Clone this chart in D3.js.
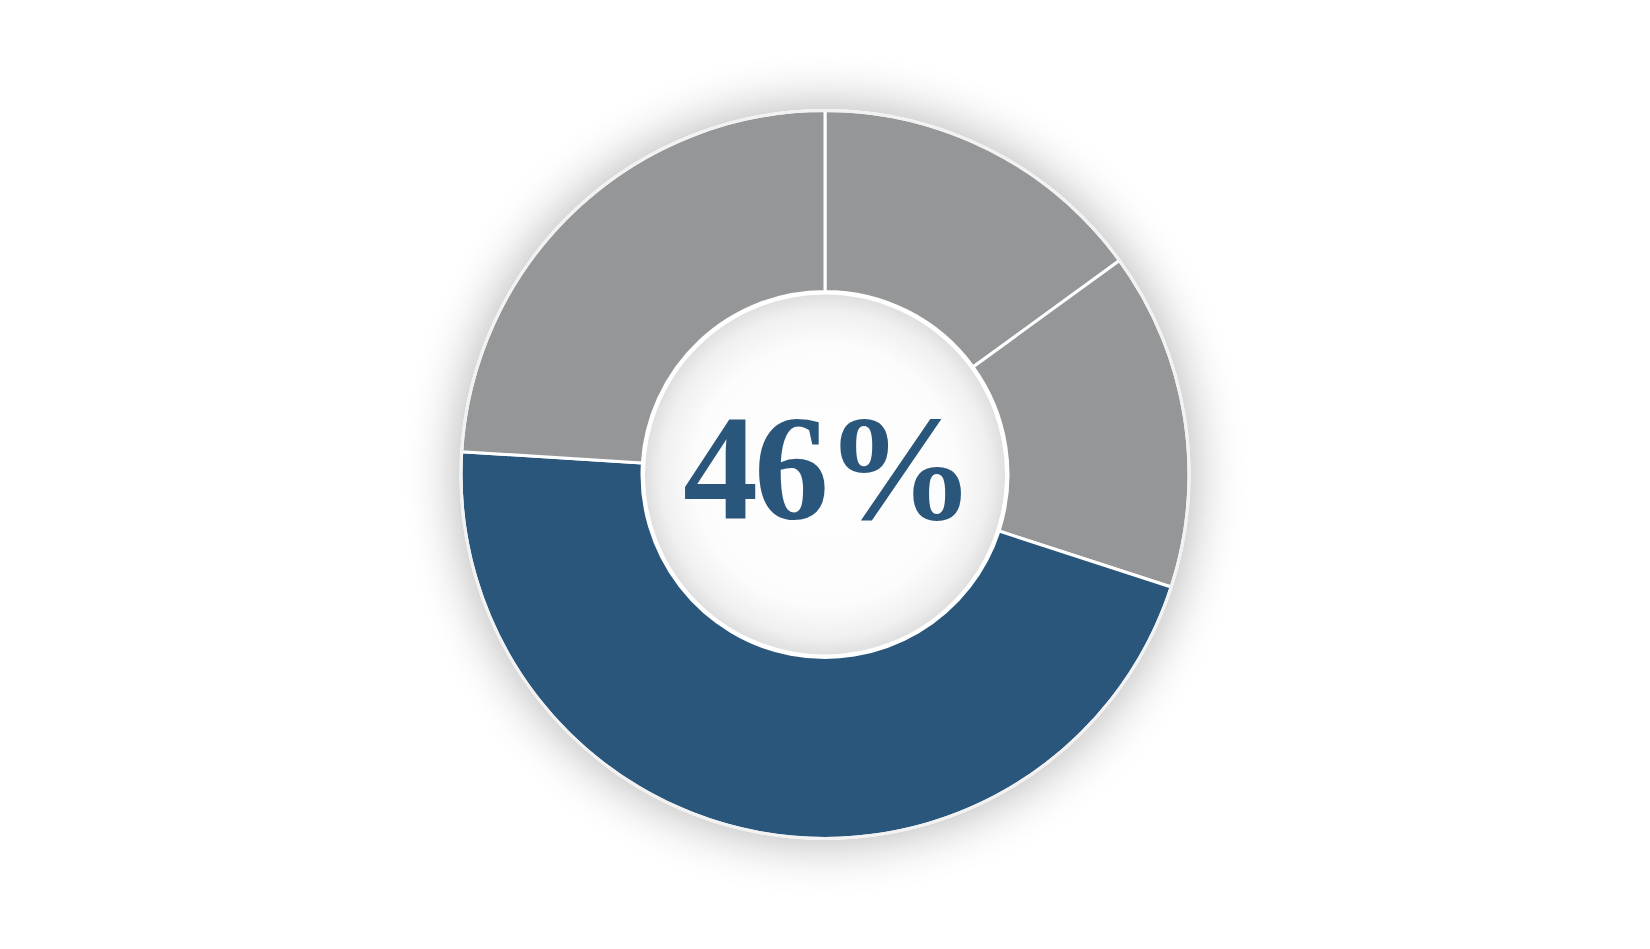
<!DOCTYPE html>
<html><head><meta charset="utf-8">
<script src="https://cdn.jsdelivr.net/npm/d3@7/dist/d3.min.js"></script>
<style>html,body{margin:0;padding:0;background:#fff;overflow:hidden}</style>
</head><body>
<svg id="c" width="1650" height="949"></svg>
<script>
const categories = ["A", "B", "C", "D"];
const values = [15, 15, 46, 24];
const colors = ["#959697", "#959697", "#2b567c", "#959697"];
const centerLabel = "46%";

const cx = 825, cy = 474.5, outerR = 364, innerR = 183;
const svg = d3.select("#c");
const defs = svg.append("defs");

const f = defs.append("filter").attr("id", "shadow")
  .attr("x", "-40%").attr("y", "-40%").attr("width", "180%").attr("height", "180%");
f.append("feGaussianBlur").attr("in", "SourceAlpha").attr("stdDeviation", 28).attr("result", "b");
f.append("feComponentTransfer").attr("in", "b").attr("result", "b2")
  .append("feFuncA").attr("type", "linear").attr("slope", 0.33);
const m = f.append("feMerge");
m.append("feMergeNode").attr("in", "b2");
m.append("feMergeNode").attr("in", "SourceGraphic");

const rg = defs.append("radialGradient").attr("id", "hole");
rg.append("stop").attr("offset", "0%").attr("stop-color", "#ffffff");
rg.append("stop").attr("offset", "72%").attr("stop-color", "#fcfcfc");
rg.append("stop").attr("offset", "90%").attr("stop-color", "#f0f0f0");
rg.append("stop").attr("offset", "100%").attr("stop-color", "#dedede");

const g = svg.append("g").attr("transform", `translate(${cx},${cy})`);

g.append("circle").attr("r", outerR).attr("fill", "#fff").attr("filter", "url(#shadow)");

const pie = d3.pie().sort(null).value(d => d)(values);
const arc = d3.arc().innerRadius(innerR).outerRadius(outerR);

g.selectAll("path.slice").data(pie).join("path")
  .attr("class", "slice")
  .attr("d", arc)
  .attr("fill", (d, i) => colors[i])
  .attr("stroke", "#fff").attr("stroke-width", 3).attr("stroke-linejoin", "round");

g.append("circle").attr("r", outerR).attr("fill", "none").attr("stroke", "#f2f2f2").attr("stroke-width", 3);
g.append("circle").attr("r", innerR - 1.5).attr("fill", "url(#hole)")
  .attr("stroke", "#fff").attr("stroke-width", 3);

g.append("text").text(centerLabel)
  .attr("x", 2).attr("y", 44)
  .attr("text-anchor", "middle")
  .attr("font-family", "'Liberation Serif', 'Times New Roman', Times, serif")
  .attr("font-weight", "bold")
  .attr("font-size", 150)
  .attr("letter-spacing", -4)
  .attr("fill", "#2b567c");
</script>
</body></html>
